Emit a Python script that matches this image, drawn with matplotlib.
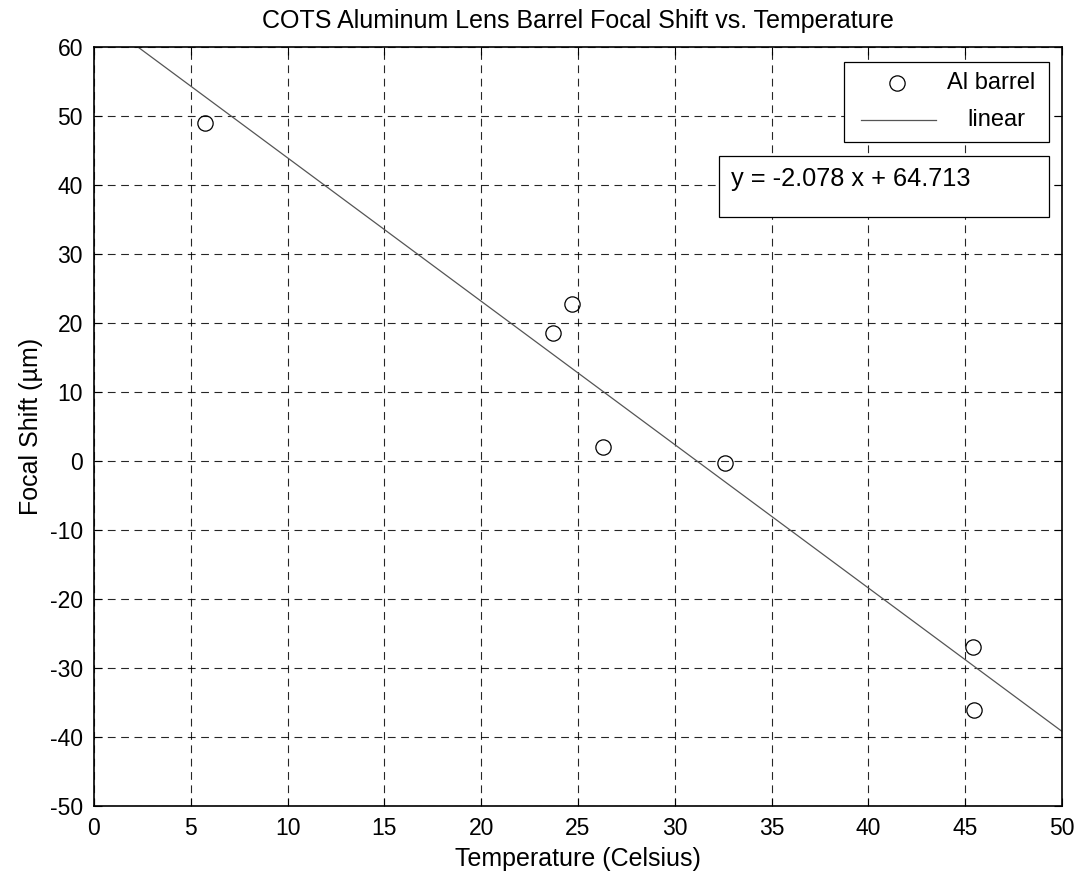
import matplotlib
matplotlib.use("Agg")
import matplotlib.pyplot as plt
from matplotlib.lines import Line2D
from matplotlib.patches import Rectangle
import numpy as np

temps = [5.74, 23.73, 24.71, 26.31, 32.57, 45.38, 45.47]
shifts = [49.0, 18.6, 22.8, 2.0, -0.3, -26.9, -36.1]
slope = -2.078
intercept = 64.713
xticks = list(range(0, 51, 5))
yticks = list(range(-50, 61, 10))

plt.rcParams['font.family'] = ['Liberation Sans', 'DejaVu Sans']
plt.rcParams['axes.unicode_minus'] = False
W, H = 1077, 875
fig = plt.figure(figsize=(W/100, H/100), dpi=100)
ax = fig.add_axes([94/W, 1-806/H, 968/W, 759/H])

xl = np.linspace(0, 50, 200)
ax.plot(temps, shifts, 'o', mfc='none', mec='black', ms=11, mew=0.9, zorder=3)
ax.plot(xl, slope*xl + intercept, '-', color='#555555', lw=0.9, zorder=2)

ax.set_xlim(0, 50)
ax.set_ylim(-50, 60)
ax.set_xticks(xticks)
ax.set_yticks(yticks)
ax.tick_params(direction='in', top=True, right=True, labelsize=16.5, length=6, width=0.8)
ax.tick_params(axis='x', pad=8)
ax.tick_params(axis='y', pad=8)
ax.grid(True, color='black', linestyle=(0, (7, 5)), lw=0.8, alpha=0.85)
for s in ax.spines.values():
    s.set_linewidth(1.2)

ax.set_title('COTS Aluminum Lens Barrel Focal Shift vs. Temperature', fontsize=18, pad=14)
ax.set_xlabel('Temperature (Celsius)', fontsize=18, labelpad=5)
ax.set_ylabel('Focal Shift (\u00b5m)', fontsize=18, labelpad=5)

tf = fig.transFigure
def fx(px):
    return px / W
def fy(py):
    return 1 - py / H

# legend box
fig.patches.append(Rectangle((fx(844), fy(142)), fx(1049) - fx(844), fy(62) - fy(142),
                             transform=tf, facecolor='white', edgecolor='black', lw=0.9, zorder=5))
fig.lines.append(Line2D([fx(897)], [fy(83)], transform=tf, marker='o', ms=11, mfc='none',
                        mec='black', mew=0.9, ls='none', zorder=6))
fig.lines.append(Line2D([fx(861), fx(936)], [fy(120), fy(120)], transform=tf,
                        color='#555555', lw=0.9, zorder=6))
fig.text(fx(1035), fy(83), 'Al barrel', fontsize=17, ha='right', va='center', zorder=7)
fig.text(fx(1025), fy(120), 'linear', fontsize=17, ha='right', va='center', zorder=7)

# equation box
fig.patches.append(Rectangle((fx(719), fy(217)), fx(1049) - fx(719), fy(156) - fy(217),
                             transform=tf, facecolor='white', edgecolor='black', lw=0.9, zorder=5))
fig.text(fx(731), fy(179), 'y = -2.078 x + 64.713', fontsize=18.3, ha='left', va='center', zorder=7)

fig.savefig('out.png', dpi=100)
